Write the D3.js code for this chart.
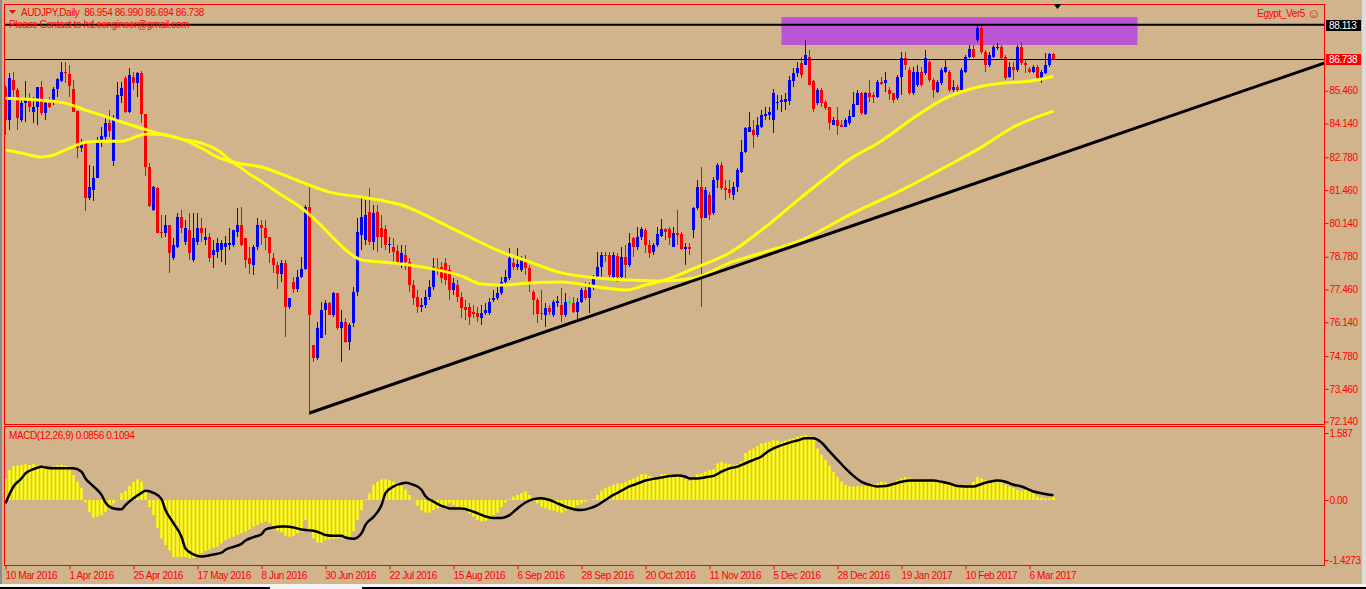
<!DOCTYPE html>
<html><head><meta charset="utf-8">
<script src="https://cdn.jsdelivr.net/npm/d3@7"></script>
<style>
body{margin:0;background:#D2B48C;overflow:hidden}
svg{display:block}
text{font-family:"Liberation Sans",Arial,sans-serif;font-size:10px;letter-spacing:-0.4px;white-space:pre}
</style>
</head><body>
<svg id="c" width="1366" height="589"></svg>
<script>
// ---------- data ----------
const dateLabels = ["10 Mar 2016","1 Apr 2016","25 Apr 2016","17 May 2016","8 Jun 2016","30 Jun 2016","22 Jul 2016","15 Aug 2016","6 Sep 2016","28 Sep 2016","20 Oct 2016","11 Nov 2016","5 Dec 2016","28 Dec 2016","19 Jan 2017","10 Feb 2017","6 Mar 2017"];
const dateBars = [0,16,32,48,64,80,96,112,128,144,160,176,192,208,224,240,256];
const priceTicks = [72.14,73.46,74.78,76.14,77.46,78.78,80.14,81.46,82.78,84.14,85.46];
const macdTicks = [1.587,0,-1.4273];
const macdTickLabels = ["1.587","0.00","-1.4273"];

const open = [85.61,84.28,85.89,85.49,84.28,84.97,85.17,84.60,84.80,85.61,84.56,84.97,84.97,85.53,85.85,86.21,86.13,85.53,84.64,83.15,
83.35,81.14,81.46,81.95,83.44,83.60,84.16,82.63,84.24,85.25,85.97,84.60,86.01,85.77,86.17,84.52,82.39,80.66,81.54,79.77,
79.73,80.06,78.73,79.17,80.38,79.37,79.85,78.65,79.37,79.93,79.45,79.57,78.85,78.97,79.05,79.17,79.25,79.25,79.77,80.06,
79.53,78.73,78.45,79.17,80.06,79.93,79.57,78.73,78.45,78.08,78.53,76.76,77.76,77.48,77.96,78.29,80.78,75.23,74.70,75.51,
76.64,76.92,76.43,77.32,75.91,76.15,75.35,76.11,77.36,79.65,79.45,80.58,79.37,80.58,79.93,79.89,79.25,79.17,79.01,78.45,
78.85,78.57,77.64,77.16,76.76,76.84,77.16,77.56,78.33,78.37,78.53,78.25,77.44,77.64,77.16,76.76,76.76,76.56,76.51,76.31,
76.51,76.51,77.04,77.12,77.32,77.76,77.92,78.53,78.37,78.25,78.65,78.33,77.36,77.04,76.51,76.43,76.72,76.43,76.92,76.84,
76.43,76.96,76.92,76.56,76.96,77.44,77.12,77.52,77.96,78.37,78.85,78.85,77.96,78.81,77.96,78.77,78.45,79.53,79.17,79.57,
79.85,79.25,78.97,79.25,79.61,79.89,79.89,79.17,79.73,79.69,79.09,79.17,79.85,80.74,81.58,80.34,81.26,80.54,81.87,82.47,
81.54,81.50,81.26,81.58,82.19,82.99,83.80,83.88,83.68,84.00,84.44,84.48,84.28,84.97,85.01,85.01,85.05,85.85,86.17,86.58,
86.49,86.82,85.85,84.97,85.49,85.01,84.80,84.08,84.28,84.08,84.00,84.16,84.40,84.88,85.37,84.52,85.37,85.29,85.21,85.81,
85.77,85.49,85.37,85.17,86.01,86.78,86.29,85.37,85.69,86.21,86.17,86.62,85.89,85.41,85.77,86.21,86.21,85.49,85.61,85.49,
86.21,86.82,87.14,87.50,87.98,87.02,86.49,86.82,87.18,87.22,86.82,86.01,86.41,86.29,87.22,86.58,86.33,86.21,86.41,85.97,
86.17,86.49,86.954];
const high = [85.69,86.17,86.21,85.57,85.17,85.85,85.37,85.21,85.61,85.85,85.09,85.21,85.61,85.97,86.62,86.62,86.49,85.89,84.64,83.52,
83.35,82.47,82.43,83.60,84.00,84.48,84.68,84.48,85.81,85.81,86.05,86.37,86.21,86.21,86.25,84.52,82.55,81.62,81.58,80.46,
80.46,80.06,79.53,80.54,80.66,80.26,80.54,80.54,80.54,80.34,79.93,79.73,79.45,79.53,79.45,79.61,79.93,79.85,80.74,80.78,
79.53,79.17,79.25,80.34,80.26,80.26,79.57,78.93,78.57,78.65,78.65,77.12,77.96,78.25,78.77,80.86,81.58,75.23,76.15,76.96,
77.04,76.96,77.36,77.32,76.64,76.31,76.11,77.56,80.34,81.14,81.06,81.54,80.86,80.86,80.46,80.06,79.57,79.53,79.25,79.25,
79.25,78.73,77.84,77.44,77.12,77.44,77.84,78.73,78.73,78.57,78.73,78.45,77.92,77.84,77.36,77.04,76.92,76.84,76.76,76.84,
76.92,77.12,77.44,77.56,77.96,78.25,79.13,78.85,79.13,78.81,78.85,78.45,77.44,77.12,77.44,76.92,76.84,77.04,77.20,77.52,
77.32,77.20,77.16,77.12,77.52,77.76,77.72,78.04,78.97,78.97,78.97,78.97,78.97,78.93,79.17,79.25,79.73,79.57,79.97,79.97,
79.93,79.45,79.33,79.97,80.30,79.93,79.97,79.97,80.66,79.77,79.33,79.33,80.78,81.87,82.39,81.58,81.38,81.99,82.55,82.59,
81.87,81.87,81.79,82.35,83.48,83.99,84.60,84.28,84.40,84.68,84.80,84.80,85.53,85.29,85.29,85.37,86.05,86.37,86.62,86.82,
87.50,87.10,85.89,85.57,85.57,85.09,84.80,84.40,84.80,84.28,84.36,84.68,85.41,85.49,85.41,85.41,85.89,85.41,85.89,86.01,
86.21,85.61,85.37,86.09,87.02,87.02,86.41,86.41,86.49,86.41,87.10,86.70,85.97,85.89,86.37,86.70,86.29,85.89,85.69,86.37,
86.90,87.30,87.30,88.113,88.10,87.10,87.02,87.30,87.38,87.30,86.90,86.62,86.62,87.30,87.42,86.70,86.41,86.49,86.49,86.29,
86.98,86.98,86.990];
const low = [83.68,83.88,85.17,83.88,84.20,84.20,84.60,84.16,84.08,84.48,84.28,84.76,84.88,85.21,85.81,85.77,85.21,84.60,82.75,82.99,
80.62,81.06,81.02,81.95,83.19,83.44,83.60,82.43,84.20,84.97,84.56,84.56,85.49,85.21,84.16,82.03,80.78,80.62,79.73,79.53,
79.57,78.12,78.65,79.13,79.73,79.25,78.65,78.57,79.25,79.37,79.25,78.57,78.33,78.73,78.57,78.45,79.05,79.17,79.57,79.21,
78.33,78.08,78.04,79.05,79.25,79.05,78.53,78.12,77.48,77.76,75.55,76.68,77.32,77.36,77.92,78.25,72.41,74.54,74.62,75.51,
75.63,76.43,76.35,75.83,74.54,75.31,75.03,75.95,77.20,79.05,79.25,79.25,79.05,78.97,79.13,79.05,78.93,78.57,78.45,78.33,
78.25,77.36,76.84,76.51,76.56,76.72,77.04,77.44,78.04,77.72,77.64,77.04,77.24,76.96,76.31,76.23,76.03,76.31,76.15,76.03,
76.43,76.43,76.96,77.04,77.24,77.68,77.84,78.25,78.25,78.16,78.04,77.36,76.43,76.11,76.23,75.95,76.43,76.35,76.76,76.15,
76.35,76.76,76.51,76.15,76.92,77.04,76.51,77.44,77.92,77.96,78.57,77.96,77.92,77.76,77.92,77.92,78.37,78.77,79.05,79.45,
78.93,78.73,78.85,79.17,79.57,79.45,79.25,79.17,79.25,79.05,78.45,78.85,79.53,80.66,76.76,80.34,80.26,80.46,81.54,81.46,
81.06,81.14,81.06,81.38,82.15,82.95,83.80,83.15,83.60,83.96,84.28,84.28,83.76,84.68,84.60,84.68,84.88,85.61,86.01,85.97,
86.49,85.69,84.60,84.88,84.80,84.68,83.88,84.08,83.68,84.00,84.00,84.08,84.40,84.88,84.48,84.48,85.01,84.97,85.17,85.69,
85.41,85.09,84.97,85.09,85.29,86.29,85.29,85.29,85.61,85.61,86.09,85.81,85.17,85.37,85.69,86.17,85.41,85.41,85.41,85.41,
86.17,86.78,86.78,87.42,86.94,86.21,86.41,86.78,87.10,86.70,85.89,85.97,85.89,86.21,86.49,86.17,86.17,86.17,85.89,85.77,
86.13,86.41,86.694];
const close = [84.28,85.97,85.49,84.36,84.97,85.09,84.80,84.80,85.61,84.56,84.97,84.80,85.53,85.93,86.21,86.17,85.65,84.60,83.15,83.35,
81.14,81.58,81.95,83.35,83.64,84.16,83.84,84.32,85.29,85.57,84.60,86.09,85.77,86.17,84.52,82.39,80.82,81.58,79.73,79.73,
80.06,78.93,79.25,80.38,79.93,79.93,78.93,79.53,79.93,79.73,79.57,78.73,79.05,79.33,79.33,79.33,79.33,79.85,80.06,79.25,
78.65,78.49,79.17,80.06,79.93,79.53,78.93,78.45,78.08,78.53,76.76,77.12,77.48,77.96,78.29,80.78,76.43,74.70,75.91,76.64,
76.92,76.43,77.32,75.91,76.15,75.35,76.03,77.36,79.77,80.38,80.46,79.37,80.54,79.57,79.57,79.25,79.29,78.97,78.53,78.93,
78.57,77.64,77.12,76.76,76.84,77.16,77.56,78.37,78.25,77.92,77.84,77.44,77.72,77.16,76.72,76.64,76.35,76.47,76.35,76.51,
76.64,76.96,77.12,77.32,77.76,77.96,78.73,78.37,78.49,78.73,78.33,77.76,77.04,76.47,76.47,76.72,76.56,76.96,77.00,76.43,
76.96,76.96,76.56,76.96,77.44,77.12,77.56,77.96,78.37,78.85,78.81,78.04,78.85,77.96,78.77,78.45,79.33,79.17,79.57,79.89,
79.25,78.93,79.25,79.69,79.89,79.77,79.53,79.73,79.65,79.09,79.17,79.09,80.74,81.58,80.34,81.46,80.46,81.87,82.47,81.54,
81.46,81.34,81.58,82.27,82.99,83.96,84.00,83.68,84.08,84.48,84.52,84.60,85.37,85.01,85.09,85.13,85.89,86.17,86.37,86.09,
86.90,85.69,84.72,85.49,84.97,84.76,84.16,84.28,84.04,84.00,84.28,84.44,84.92,85.37,84.56,85.37,85.21,85.21,85.81,85.73,
85.89,85.33,85.09,86.01,86.78,86.49,85.37,86.21,86.21,85.69,86.78,85.89,85.49,85.81,86.29,86.41,85.49,85.61,85.49,86.29,
86.82,87.14,86.82,87.98,87.02,86.49,86.90,87.22,87.22,86.78,85.97,86.41,86.29,87.22,86.58,86.49,86.21,86.41,85.97,86.21,
86.49,86.94,86.738];

const macdHist = [0.51,0.71,0.81,0.82,0.83,0.85,0.83,0.85,0.82,0.79,0.77,0.75,0.79,0.82,0.83,0.81,0.75,0.59,0.43,0.28,
-0.06,-0.28,-0.42,-0.39,-0.36,-0.28,-0.20,-0.08,-0.01,0.16,0.21,0.33,0.43,0.49,0.43,0.20,-0.17,-0.36,-0.67,-0.91,
-1.07,-1.20,-1.35,-1.35,-1.35,-1.35,-1.38,-1.38,-1.35,-1.26,-1.21,-1.18,-1.14,-1.10,-1.03,-0.95,-0.91,-0.87,-0.83,-0.79,
-0.75,-0.70,-0.63,-0.59,-0.55,-0.51,-0.55,-0.62,-0.73,-0.77,-0.85,-0.87,-0.85,-0.79,-0.75,-0.47,-0.75,-0.91,-1.01,-1.01,
-0.95,-0.93,-0.92,-0.91,-0.88,-0.88,-0.87,-0.75,-0.47,-0.24,0.02,0.16,0.36,0.43,0.49,0.49,0.47,0.43,0.39,0.33,
0.24,0.12,-0.01,-0.14,-0.25,-0.30,-0.30,-0.24,-0.20,-0.17,-0.16,-0.08,-0.12,-0.16,-0.20,-0.25,-0.32,-0.39,-0.47,-0.51,
-0.50,-0.41,-0.36,-0.30,-0.17,-0.06,0.02,0.08,0.12,0.16,0.20,0.12,-0.01,-0.08,-0.16,-0.20,-0.24,-0.25,-0.28,-0.30,
-0.25,-0.22,-0.17,-0.12,-0.08,-0.04,0.01,0.02,0.12,0.22,0.29,0.32,0.36,0.39,0.39,0.43,0.47,0.51,0.55,0.61,
0.61,0.57,0.54,0.55,0.61,0.62,0.61,0.59,0.57,0.54,0.49,0.45,0.51,0.61,0.63,0.67,0.71,0.73,0.87,0.90,
0.87,0.85,0.83,0.85,0.91,1.11,1.18,1.22,1.28,1.34,1.36,1.38,1.41,1.41,1.38,1.41,1.44,1.46,1.50,1.52,
1.54,1.50,1.42,1.22,1.07,0.95,0.81,0.67,0.55,0.43,0.36,0.32,0.32,0.33,0.32,0.33,0.36,0.38,0.39,0.43,
0.41,0.39,0.41,0.47,0.51,0.54,0.51,0.49,0.47,0.47,0.46,0.45,0.46,0.43,0.41,0.39,0.38,0.33,0.30,0.28,
0.28,0.32,0.43,0.54,0.51,0.47,0.45,0.46,0.43,0.41,0.36,0.32,0.28,0.24,0.22,0.24,0.20,0.16,0.08,0.06,
0.04,0.04,0.0856];

const signalBars = [0,2,4,5,7,9,10,12,15,17,19,20,22,24,25,27,29,30,32,34,35,37,39,40,42,44,45,47,49,50,52,54,55,57,59,60,62,64,65,67,69,70,72,74,75,77,79,80,82,84,85,87,89,90,92,94,95,97,99,100,102,104,105,107,109,110,111,114,117,120,122,124,126,128,130,132,134,136,138,140,142,144,146,148,150,152,154,156,158,160,162,164,166,168,170,171,173,175,177,179,181,183,185,187,189,190,192,194,196,198,200,202,204,206,208,210,212,214,216,218,220,222,224,226,228,230,232,234,236,238,240,242,244,246,248,250,252,254,256,257,259,262];
const signalVals = [-0.08,0.32,0.51,0.63,0.73,0.79,0.77,0.75,0.75,0.75,0.67,0.51,0.32,0.12,-0.06,-0.20,-0.22,-0.12,0.04,0.17,0.22,0.17,0.02,-0.24,-0.55,-0.87,-1.15,-1.29,-1.34,-1.33,-1.29,-1.25,-1.18,-1.11,-1.04,-0.96,-0.88,-0.81,-0.70,-0.65,-0.63,-0.63,-0.65,-0.70,-0.71,-0.73,-0.79,-0.83,-0.85,-0.85,-0.89,-0.92,-0.79,-0.59,-0.40,-0.12,0.16,0.32,0.39,0.41,0.36,0.24,0.09,-0.04,-0.14,-0.17,-0.20,-0.20,-0.28,-0.39,-0.43,-0.43,-0.36,-0.20,-0.06,0.02,0.04,0.00,-0.08,-0.16,-0.22,-0.24,-0.20,-0.12,0.00,0.12,0.22,0.32,0.39,0.46,0.50,0.53,0.57,0.58,0.55,0.51,0.51,0.54,0.57,0.67,0.75,0.79,0.87,0.95,1.03,1.11,1.22,1.30,1.36,1.41,1.46,1.46,1.36,1.15,0.95,0.75,0.57,0.43,0.36,0.32,0.33,0.38,0.43,0.46,0.46,0.46,0.46,0.43,0.39,0.33,0.32,0.32,0.38,0.43,0.46,0.43,0.36,0.32,0.24,0.20,0.16,0.1094];

const maFastBars = [0,9,15,20,24,29,34,39,44,49,53,57,61,65,69,74,78,82,86,89,94,101,108,114,119,124,131,139,148,155,160,164,173,181,189,199,206,210,219,227,235,244,252,256,262];
const maFastVals = [85.16,85.08,84.96,84.68,84.48,84.20,83.95,83.71,83.51,83.15,82.79,82.55,82.11,81.70,81.26,80.74,80.18,79.53,78.93,78.65,78.57,78.45,78.25,78.00,77.68,77.64,77.72,77.76,77.56,77.44,77.64,77.80,78.37,78.93,79.85,81.18,82.07,82.59,83.44,84.36,85.16,85.64,85.80,85.84,86.04];
const maSlowBars = [0,4,9,12,16,20,24,29,35,39,44,49,53,57,64,74,81,89,99,111,124,131,139,148,156,164,173,181,189,199,211,224,235,244,252,262];
const maSlowVals = [83.07,82.95,82.79,82.87,83.15,83.39,83.43,83.43,83.71,83.71,83.51,83.35,83.07,82.59,82.39,81.78,81.38,81.18,80.86,79.97,78.97,78.57,78.13,77.92,77.84,77.80,77.96,78.53,78.93,79.45,80.46,81.46,82.39,83.19,84.00,84.64];

const trendBars = [76,250];
const trendVals = [72.49,82.15];
const zoneBars = [194,283];
const zoneVals = [87.30,88.42];
const levels = [88.113,86.738];
const levelLabels = ["88.113","86.738"];

// ---------- drawing ----------
const svg = d3.select("#c");
const RED = "#FF0000";
const x = d3.scaleLinear().domain([0,262]).range([5.5,1053.5]);
const xt = d3.scaleLinear().domain([0,262]).range([5,1053]);
const y = d3.scaleLinear().domain([72.14,85.46]).range([421.7,90.7]);
const ym = d3.scaleLinear().domain([-1.4273,1.587]).range([560.2,433]);
const L = 4, R = 1324, T = 4, B = 424, MT = 426, MB = 565;

svg.append("rect").attr("width",1366).attr("height",589).attr("fill","#D2B48C");

const defs = svg.append("defs");
defs.append("clipPath").attr("id","cm").append("rect").attr("x",L+1).attr("y",T+1).attr("width",R-L-1).attr("height",B-T-1);
defs.append("clipPath").attr("id","cd").append("rect").attr("x",L+1).attr("y",MT+1).attr("width",R-L-1).attr("height",MB-MT-1);

const gm = svg.append("g").attr("clip-path","url(#cm)");

// zone rectangle
gm.append("rect")
  .attr("x",x(zoneBars[0])).attr("width",x(zoneBars[1])-x(zoneBars[0]))
  .attr("y",y(zoneVals[1])).attr("height",y(zoneVals[0])-y(zoneVals[1]))
  .attr("fill","#BA55D3");

// candles
const candles = open.map((o,i)=>({i,o,h:high[i],l:low[i],c:close[i]}));
const col = d => d.c>d.o ? "#0000FF" : (d.c<d.o ? RED : "#00FF00");
const gc = gm.append("g").attr("shape-rendering","crispEdges");
gc.selectAll("line").data(candles).join("line")
  .attr("x1",d=>x(d.i)).attr("x2",d=>x(d.i))
  .attr("y1",d=>y(d.h)).attr("y2",d=>y(d.l))
  .attr("stroke",col).attr("stroke-width",1);
gc.selectAll("rect").data(candles).join("rect")
  .attr("x",d=>x(d.i)-1.5).attr("width",3)
  .attr("y",d=>Math.min(y(d.o),y(d.c)))
  .attr("height",d=>Math.max(1,Math.abs(y(d.o)-y(d.c))))
  .attr("fill",col);

// moving averages
const maLine = d3.line().x(d=>x(d[0])).y(d=>y(d[1])).curve(d3.curveMonotoneX);
gm.append("path").attr("d",maLine(maSlowBars.map((b,i)=>[b,maSlowVals[i]])))
  .attr("fill","none").attr("stroke","#FFFF00").attr("stroke-width",3);
gm.append("path").attr("d",maLine(maFastBars.map((b,i)=>[b,maFastVals[i]])))
  .attr("fill","none").attr("stroke","#FFFF00").attr("stroke-width",3);

// trend line (ray to the right)
const slope = (trendVals[1]-trendVals[0])/(trendBars[1]-trendBars[0]);
const rEnd = x.invert(R);
gm.append("line")
  .attr("x1",x(trendBars[0])).attr("y1",y(trendVals[0]))
  .attr("x2",x(rEnd)).attr("y2",y(trendVals[0]+slope*(rEnd-trendBars[0])))
  .attr("stroke","#000").attr("stroke-width",3);

// horizontal levels
gm.append("line").attr("x1",L).attr("x2",R).attr("y1",y(levels[0])).attr("y2",y(levels[0]))
  .attr("stroke","#000").attr("stroke-width",2);
gm.append("line").attr("x1",L).attr("x2",R).attr("y1",Math.round(y(levels[1]))+0.5).attr("y2",Math.round(y(levels[1]))+0.5)
  .attr("stroke","#000").attr("stroke-width",1);

// MACD panel
const gd = svg.append("g").attr("clip-path","url(#cd)");
gd.append("g").selectAll("rect").data(macdHist).join("rect")
  .attr("x",(d,i)=>x(i)-1.25).attr("width",2.5)
  .attr("y",d=>Math.min(ym(0),ym(d))).attr("height",d=>Math.abs(ym(d)-ym(0)))
  .attr("fill","#FFFF00");
const sigLine = d3.line().x(d=>x(d[0])).y(d=>ym(d[1])).curve(d3.curveMonotoneX);
gd.append("path").attr("d",sigLine(signalBars.map((b,i)=>[b,signalVals[i]])))
  .attr("fill","none").attr("stroke","#000").attr("stroke-width",2.5);

// frames
const fr = svg.append("g").attr("fill","none").attr("stroke",RED).attr("shape-rendering","crispEdges");
fr.append("rect").attr("x",L+0.5).attr("y",T+0.5).attr("width",R-L).attr("height",B-T);
fr.append("rect").attr("x",L+0.5).attr("y",MT+0.5).attr("width",R-L).attr("height",MB-MT);

// axes
function styleAxis(g){
  g.select(".domain").remove();
  g.selectAll("line").attr("stroke",RED);
  g.selectAll("text").attr("fill",RED).attr("font-family",null).attr("font-size",null);
  g.attr("font-family",null).attr("font-size",null);
}
svg.append("g").attr("transform",`translate(${R+0.5},0)`)
  .call(d3.axisRight(y).tickValues(priceTicks).tickSize(4).tickPadding(1).tickFormat(d3.format(".3f")))
  .call(styleAxis);
svg.append("g").attr("transform",`translate(${R+0.5},0)`)
  .call(d3.axisRight(ym).tickValues(macdTicks).tickSize(4).tickPadding(1).tickFormat((d,i)=>macdTickLabels[i]))
  .call(styleAxis);
const ax = svg.append("g").attr("transform",`translate(0,${MB+0.5})`)
  .call(d3.axisBottom(xt).tickValues(dateBars).tickSize(4).tickFormat((d,i)=>dateLabels[i]))
  .call(styleAxis);
ax.selectAll("text").attr("text-anchor","start").attr("x",0).attr("dy","0.71em").attr("y",6);
ax.selectAll(".tick line").attr("transform","translate(0.5,0)");

// level labels
levels.forEach((v,k)=>{
  const yy = Math.round(y(v));
  svg.append("rect").attr("x",R+2).attr("y",yy-5).attr("width",35).attr("height",11)
    .attr("fill",k===0?"#000":RED);
  svg.append("text").attr("x",R+5).attr("y",yy+4).attr("fill","#FFF").text(levelLabels[k]);
});

// texts
svg.append("polygon").attr("points","9,10 16,10 12.5,14").attr("fill",RED);
svg.append("text").attr("x",21).attr("y",16).attr("fill",RED).text("AUDJPY,Daily  86.954 86.990 86.694 86.738");
svg.append("text").attr("x",9).attr("y",28).attr("fill",RED).text("Please Contact to hd.eengineer@gmail.com");
svg.append("text").attr("x",1305).attr("y",17).attr("fill",RED).attr("text-anchor","end").text("Egypt_Ver5");
svg.append("text").attr("x",1307).attr("y",18).attr("fill",RED).style("font-size","13px").text("\u263A");
svg.append("text").attr("x",9).attr("y",439).attr("fill",RED).text("MACD(12,26,9) 0.0856 0.1094");

// chart shift marker
const sx = x(263);
svg.append("polygon").attr("points",`${sx-4},4 ${sx+4},4 ${sx},9`).attr("fill","#000");

// window chrome
svg.append("rect").attr("x",0).attr("y",0).attr("width",2).attr("height",584).attr("fill","#8C8C8C");
svg.append("rect").attr("x",1362).attr("y",0).attr("width",4).attr("height",589).attr("fill","#DCDCDC");
svg.append("rect").attr("x",0).attr("y",584).attr("width",1366).attr("height",5).attr("fill","#F4F4F4");
svg.append("rect").attr("x",0).attr("y",587).attr("width",270).attr("height",2).attr("fill","#000");
svg.append("rect").attr("x",362).attr("y",587).attr("width",1004).attr("height",2).attr("fill","#000");
</script>
</body></html>
